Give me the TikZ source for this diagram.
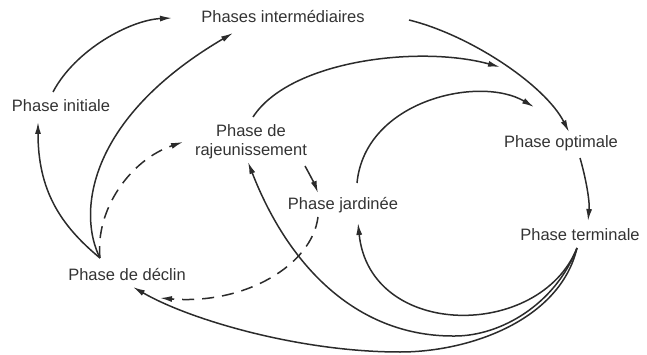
\documentclass[tikz,border=0pt]{standalone}
\usepackage{fontspec}
\setmainfont{Liberation Sans}
\usetikzlibrary{arrows.meta,calc}
\definecolor{ink}{HTML}{2B2B2B}
\definecolor{txt}{HTML}{333333}
\begin{document}
\begin{tikzpicture}[x=1pt,y=-1pt,
  lbl/.style={font=\fontsize{16.5}{19}\selectfont, text=txt, inner sep=0pt, align=center},
  arc/.style={draw=ink, line width=1.5pt, -{Latex[length=12pt,width=6pt]}},
  dsh/.style={arc, dash pattern=on 12pt off 8pt}]
\useasboundingbox (0,0) rectangle (647,355);

% nodes
\node[lbl] (inter) at (283,17) {Phases intermédiaires};
\node[lbl] (ini)   at (61,106) {Phase initiale};
\node[lbl] (raj)   at (251,142) {Phase de\\rajeunissement};
\node[lbl] (jard)  at (343,205) {Phase jardinée};
\node[lbl] (opt)   at (561,143) {Phase optimale};
\node[lbl] (term)  at (580,235) {Phase terminale};
\node[lbl] (decl)  at (127,275) {Phase de déclin};

% connector end points
\coordinate (dS)  at ($(decl)+(-27,-17)$);
\coordinate (dE1) at ($(decl)+(33,23)$);
\coordinate (dE2) at ($(decl)+(6,12)$);
\coordinate (iS)  at ($(ini)+(-8,-14)$);
\coordinate (iE)  at ($(ini)+(-23,16)$);
\coordinate (mE1) at ($(inter)+(-111,1)$);
\coordinate (mE2) at ($(inter)+(-50,16)$);
\coordinate (mS)  at ($(inter)+(126,3)$);
\coordinate (rE1) at ($(raj)+(-68,0)$);
\coordinate (rS1) at ($(raj)+(2,-25)$);
\coordinate (rS2) at ($(raj)+(54,24)$);
\coordinate (rE2) at ($(raj)+(-3,20)$);
\coordinate (jE1) at ($(jard)+(-25,-12)$);
\coordinate (jS1) at ($(jard)+(-25,12)$);
\coordinate (jS2) at ($(jard)+(14,-22)$);
\coordinate (jE2) at ($(jard)+(15,18)$);
\coordinate (oE)  at ($(opt)+(8,-11)$);
\coordinate (oS)  at ($(opt)+(19,15)$);
\coordinate (tE)  at ($(term)+(8,-14)$);
\coordinate (tS)  at ($(term)+(-3,13)$);
\coordinate (f1)  at (500,67);
\coordinate (f2)  at (534,107);

% connectors
\draw[arc] (iS) .. controls (75,50) and (130,20) .. (mE1);
\draw[arc] (dS) .. controls (60,225) and (38,190) .. (iE);
\draw[arc] (dS) .. controls (78,215) and (85,120) .. (mE2);
\draw[dsh] (dS) .. controls (95,210) and (130,160) .. (rE1);
\draw[arc] (mS) .. controls (470,35) and (545,85) .. (oE);
\draw[arc] (rS1) .. controls (290,60) and (420,45) .. (f1);
\draw[arc] (jS2) .. controls (365,100) and (480,75) .. (f2);
\draw[arc] (oS) .. controls (585,175) and (590,200) .. (tE);
\draw[arc] (rS2) .. controls (310,175) and (315,185) .. (jE1);
\draw[dsh] (jS1) .. controls (312,265) and (245,305) .. (dE1);
\draw[arc] (tS) .. controls (540,340) and (370,340) .. (jE2);
\draw[arc] (tS) .. controls (555,305) and (500,336) .. (455,336)
                .. controls (360,337) and (290,270) .. (rE2);
\draw[arc] (tS) .. controls (560,320) and (470,352) .. (400,352)
                .. controls (300,352) and (190,320) .. (dE2);
\end{tikzpicture}
\end{document}
